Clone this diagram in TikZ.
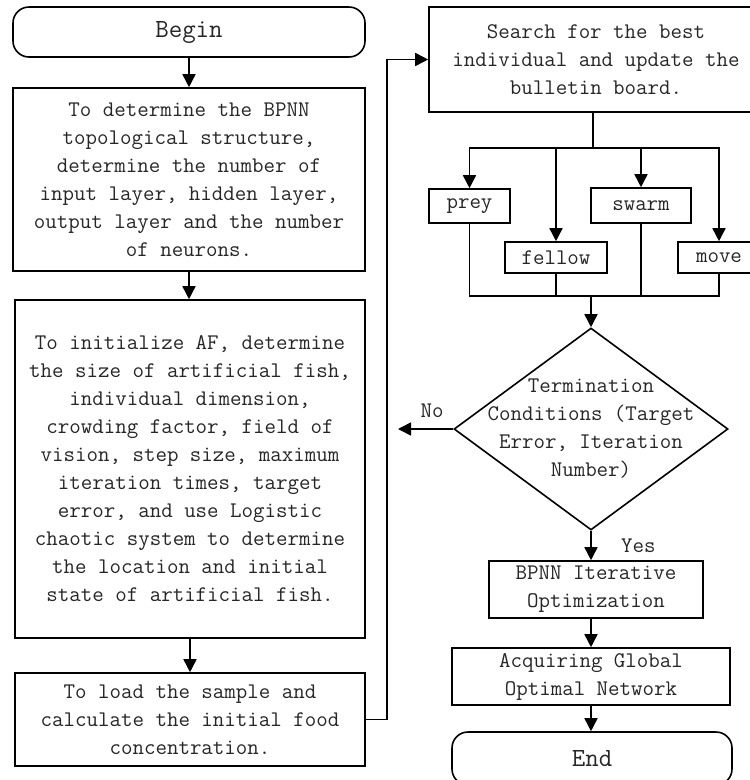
\documentclass[tikz,border=0pt]{standalone}
\usepackage{fontspec}
\usepackage{tikz}
\usetikzlibrary{positioning, arrows.meta, shapes.geometric}

\begin{document}
\begin{tikzpicture}[x=1pt, y=-1pt,
		every node/.style={font=\ttfamily\fontsize{22.3}{28}\selectfont, text=black!85},
		procbox/.style={draw, line width=1.6pt, inner sep=0pt, align=center},
		termbox/.style={procbox, rounded corners=16pt, font=\ttfamily\fontsize{26.2}{30}\selectfont},
		link/.style={line width=1.6pt, -{Triangle[length=13pt, width=13pt]}}]
		\useasboundingbox (0, 0) rectangle (750, 780);
		
		% Left column
		\node[termbox, minimum width=352pt, minimum height=50pt] (begin) at (189, 32) {Begin};
		\node[procbox, minimum width=352pt, minimum height=183pt] (topo) at (189, 179.5)
		{To determine the BPNN\\ topological structure,\\ determine the number of\\ input layer, hidden layer,\\ output layer and the number\\ of neurons.};
		\node[procbox, minimum width=350pt, minimum height=338pt] (init) at (190, 469)
		{To initialize AF, determine\\ the size of artificial fish,\\ individual dimension,\\ crowding factor, field of\\ vision, step size, maximum\\ iteration times, target\\ error, and use Logistic\\ chaotic system to determine\\ the location and initial\\ state of artificial fish.};
		\node[procbox, minimum width=350pt, minimum height=93pt] (load) at (190, 719.5)
		{To load the sample and\\ calculate the initial food\\ concentration.};
		
		% Right column
		\node[procbox, minimum width=334pt, minimum height=105pt] (search) at (596, 59.5)
		{Search for the best\\ individual and update the\\ bulletin board.};
		\node[procbox, minimum width=81pt, minimum height=34pt] (prey) at (469.5, 206) {prey};
		\node[procbox, minimum width=100pt, minimum height=35pt] (swarm) at (641, 205.5) {swarm};
		\node[procbox, minimum width=102pt, minimum height=31pt] (fellow) at (556, 257.5) {fellow};
		\node[procbox, minimum width=82pt, minimum height=31pt] (move) at (719, 257.5) {move};
		\node[diamond, draw, line width=1.6pt, inner sep=0pt, minimum width=274pt, minimum height=202pt] (cond) at (591, 429) {};
		\node[align=center, inner sep=0pt] (condtext) at (cond.center)
		{Termination\\ Conditions (Target\\ Error, Iteration\\ Number)};
		\node[procbox, minimum width=214pt, minimum height=57pt] (bpnn) at (596, 589.5)
		{BPNN Iterative\\ Optimization};
		\node[procbox, minimum width=278pt, minimum height=57pt] (acquire) at (591, 676.5)
		{Acquiring Global\\ Optimal Network};
		\node[termbox, minimum width=280pt, minimum height=53pt] (end) at (592, 758.5) {End};
		
		% Helper points
		\coordinate (loop) at (387, 719.5);
		\coordinate (split) at (593, 148);
		\coordinate (merge) at (591, 296);
		\coordinate (noend) at (398, 429);
		
		% Connectors
		\draw[link] (begin) -- (topo);
		\draw[link] (topo.south) -- (topo.south |- init.north);
		\draw[link] (init) -- (load);
		\draw[link] (load.east) -- (loop) |- (search.west);
		\draw[line width=1.6pt] (search.south -| split) -- (split);
		\draw[link] (split) -| (prey.north);
		\draw[link] (split) -| (fellow.north);
		\draw[link] (split) -| (swarm.north);
		\draw[link] (split) -| (move.north);
		\draw[line width=1.6pt] (prey.south) |- (merge);
		\draw[line width=1.6pt] (fellow.south) |- (merge);
		\draw[line width=1.6pt] (swarm.south) |- (merge);
		\draw[line width=1.6pt] (move.south) |- (merge);
		\draw[link] (merge) -- (cond.north);
		\draw[link] (cond.west) -- node[pos=0.38, above, yshift=7pt] (nolabel) {No} (noend);
		\draw[link] (cond.south) -- node[right, xshift=26pt] (yeslabel) {Yes} (cond.south |- bpnn.north);
		\draw[link] (bpnn.south -| cond.south) -- (acquire.north -| cond.south);
		\draw[link] (acquire.south -| cond.south) -- (end.north -| cond.south);
	\end{tikzpicture}
\end{document}
